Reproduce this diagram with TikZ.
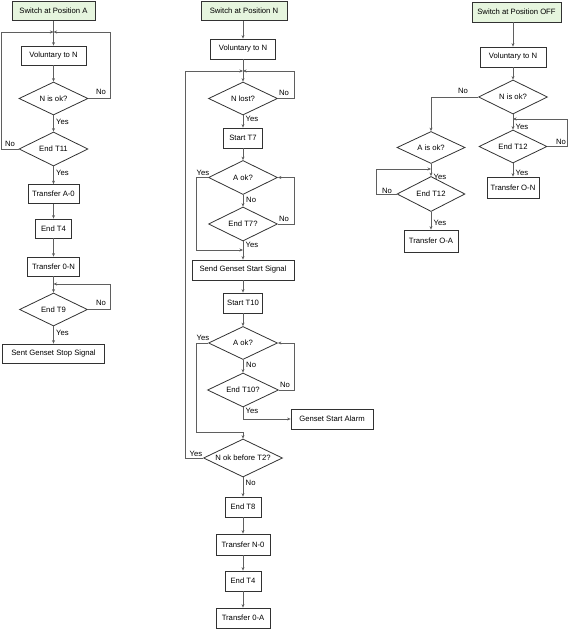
\documentclass[tikz,border=0pt]{standalone}
\usepackage{fontspec}
\setmainfont{Liberation Sans}
\usetikzlibrary{shapes.geometric,arrows.meta}
\definecolor{startfill}{RGB}{230,245,222}
\definecolor{lcol}{RGB}{95,95,95}
\definecolor{bcol}{RGB}{50,50,50}
\tikzset{
  every node/.style={font=\fontsize{7.7}{9}\selectfont},
  box/.style={draw=bcol, line width=0.8pt, rectangle, inner sep=0pt},
  startbox/.style={box, fill=startfill},
  dia/.style={draw=bcol, line width=0.8pt, diamond, inner sep=0pt, aspect=2},
  conn/.style={draw=lcol, line width=0.8pt},
  arr/.style={conn, -{Stealth[length=3.5pt,width=3pt]}},
  lbl/.style={inner sep=0pt, text=black},
}
\begin{document}
\begin{tikzpicture}[x=1pt,y=-1pt]
\useasboundingbox (0,0) rectangle (571,629);
% ---------------- Left column ----------------
\node[startbox, minimum width=83, minimum height=19] (sA) at (53.5,11) {Switch at Position A};
\node[box, minimum width=65, minimum height=19] (vA) at (53.5,55.5) {Voluntary to N};
\node[dia, minimum width=69, minimum height=33] (d1A) at (53.5,98.5) {N is ok?};
\node[dia, minimum width=69, minimum height=34] (d2A) at (53.5,149) {End T11};
\node[box, minimum width=51, minimum height=19] (tA0) at (53.5,194) {Transfer A-0};
\node[box, minimum width=36, minimum height=19] (e4A) at (53.5,228.5) {End T4};
\node[box, minimum width=52, minimum height=19] (t0N) at (53.5,266.5) {Transfer 0-N};
\node[dia, minimum width=68, minimum height=33] (d3A) at (53.5,309.5) {End T9};
\node[box, minimum width=102, minimum height=19] (stop) at (53.5,353.5) {Sent Genset Stop Signal};
\coordinate (jA) at (53.5,32);
\coordinate (jA2) at (53.5,284);
\coordinate (rA) at (110,0);
\coordinate (lA) at (1,0);

\draw[arr] (sA) -- (vA);
\draw[arr] (vA) -- (d1A);
\draw[arr] (d1A.east) -| (rA |- jA) -- (jA);
\draw[arr] (d2A.west) -| (lA |- jA) -- (jA);
\draw[arr] (d1A) -- (d2A);
\draw[arr] (d2A) -- (tA0);
\draw[arr] (tA0) -- (e4A);
\draw[arr] (e4A) -- (t0N);
\draw[arr] (t0N) -- (d3A);
\draw[arr] (d3A.east) -| (rA |- jA2) -- (jA2);
\draw[arr] (d3A) -- (stop);
\node[lbl] (l1) at (101,92) {No};
\node[lbl,anchor=west] (l2) at (56,122) {Yes};
\node[lbl] (l3) at (10,144) {No};
\node[lbl,anchor=west] (l4) at (56,172.5) {Yes};
\node[lbl] (l5) at (101,303) {No};
\node[lbl,anchor=west] (l6) at (56,333) {Yes};

% ---------------- Middle column ----------------
\node[startbox, minimum width=86, minimum height=19] (sN) at (244,11) {Switch at Position N};
\node[box, minimum width=65, minimum height=20] (vN) at (243,49) {Voluntary to N};
\node[dia, minimum width=69, minimum height=33] (dNl) at (243,98.5) {N lost?};
\node[box, minimum width=39, minimum height=20] (st7) at (243,138) {Start T7};
\node[dia, minimum width=69, minimum height=34] (dA1) at (243,177.5) {A ok?};
\node[dia, minimum width=69, minimum height=34] (dT7) at (243,224) {End T7?};
\node[box, minimum width=102, minimum height=20] (sgs) at (243,270) {Send Genset Start Signal};
\node[box, minimum width=39, minimum height=20] (st10) at (243,303) {Start T10};
\node[dia, minimum width=69, minimum height=33] (dA2) at (243,343) {A ok?};
\node[dia, minimum width=71, minimum height=34] (dT10) at (243,390) {End T10?};
\node[box, minimum width=82, minimum height=20] (alarm) at (332,419) {Genset Start Alarm};
\node[dia, minimum width=79, minimum height=38] (dT2) at (243,458) {N ok before T2?};
\node[box, minimum width=36, minimum height=20] (e8) at (243,507) {End T8};
\node[box, minimum width=54, minimum height=21] (tN0) at (243,544.5) {Transfer N-0};
\node[box, minimum width=36, minimum height=20] (e4N) at (243,581) {End T4};
\node[box, minimum width=54, minimum height=20] (t0A) at (243,618) {Transfer 0-A};
\coordinate (jN) at (243,71);
\coordinate (jN2) at (243,250);
\coordinate (jN3) at (243,432);
\coordinate (rN) at (294,0);
\coordinate (lN) at (196,0);
\coordinate (llN) at (185,0);

\draw[arr] (vN.north |- sN.south) -- (vN);
\draw[arr] (vN) -- (dNl);
\draw[arr] (dNl.east) -| (rN |- jN) -- (jN);
\draw[arr] (dT2.west) -| (llN |- jN) -- (jN);
\draw[arr] (dNl) -- (st7);
\draw[arr] (st7) -- (dA1);
\draw[arr] (dA1.west) -| (lN |- jN2) -- (jN2);
\draw[arr] (dA1) -- (dT7);
\draw[arr] (dT7.east) -| (rN |- dA1) -- (dA1.east);
\draw[arr] (dT7) -- (sgs);
\draw[arr] (sgs) -- (st10);
\draw[arr] (st10) -- (dA2);
\draw[arr] (dA2.west) -| (lN |- jN3) -- (jN3) -- (dT2.north);
\draw[arr] (dA2) -- (dT10);
\draw[arr] (dT10.east) -| (rN |- dA2) -- (dA2.east);
\draw[arr] (dT10.south) |- (alarm.west);
\draw[arr] (dT2) -- (e8);
\draw[arr] (e8) -- (tN0);
\draw[arr] (tN0) -- (e4N);
\draw[arr] (e4N) -- (t0A);
\node[lbl] (m1) at (284,93) {No};
\node[lbl,anchor=west] (m2) at (245.5,119) {Yes};
\node[lbl] (m3) at (203,172.5) {Yes};
\node[lbl,anchor=west] (m4) at (246,200) {No};
\node[lbl] (m5) at (284,219) {No};
\node[lbl,anchor=west] (m6) at (245.5,245) {Yes};
\node[lbl] (m7) at (203,338) {Yes};
\node[lbl,anchor=west] (m8) at (246,365) {No};
\node[lbl] (m9) at (285,385) {No};
\node[lbl,anchor=west] (m10) at (245.5,411) {Yes};
\node[lbl] (m11) at (196,454) {Yes};
\node[lbl,anchor=west] (m12) at (245.5,483) {No};

% ---------------- Right column ----------------
\node[startbox, minimum width=89, minimum height=20] (sOFF) at (516.5,12) {Switch at Position OFF};
\node[box, minimum width=66, minimum height=20] (vOFF) at (513,57) {Voluntary to N};
\node[dia, minimum width=69, minimum height=34] (dOFF) at (513,97) {N is ok?};
\node[dia, minimum width=68, minimum height=33] (dR12) at (513,146.5) {End T12};
\node[box, minimum width=52, minimum height=21] (tON) at (513,187.5) {Transfer O-N};
\node[dia, minimum width=68, minimum height=32] (dAok) at (431,147.5) {A is ok?};
\node[dia, minimum width=68, minimum height=35] (dL12) at (431,194) {End T12};
\node[box, minimum width=54, minimum height=22] (tOA) at (431,241) {Transfer O-A};
\coordinate (jR) at (513,119);
\coordinate (jL) at (431,169);
\coordinate (rR) at (567,0);
\coordinate (lR) at (376,0);

\draw[arr] (vOFF.north |- sOFF.south) -- (vOFF);
\draw[arr] (vOFF) -- (dOFF);
\draw[arr] (dOFF.west) -| (dAok.north);
\draw[arr] (dOFF) -- (dR12);
\draw[arr] (dR12.east) -| (rR |- jR) -- (jR);
\draw[arr] (dR12) -- (tON);
\draw[arr] (dAok) -- (dL12);
\draw[arr] (dL12.west) -| (lR |- jL) -- (jL);
\draw[arr] (dL12) -- (tOA);
\node[lbl] (r1) at (463,91) {No};
\node[lbl,anchor=west] (r2) at (515.5,127) {Yes};
\node[lbl] (r3) at (561,142) {No};
\node[lbl,anchor=west] (r4) at (515.5,173) {Yes};
\node[lbl,anchor=west] (r5) at (433.5,177) {Yes};
\node[lbl] (r6) at (387,191) {No};
\node[lbl,anchor=west] (r7) at (433.5,223) {Yes};
\end{tikzpicture}
\end{document}
